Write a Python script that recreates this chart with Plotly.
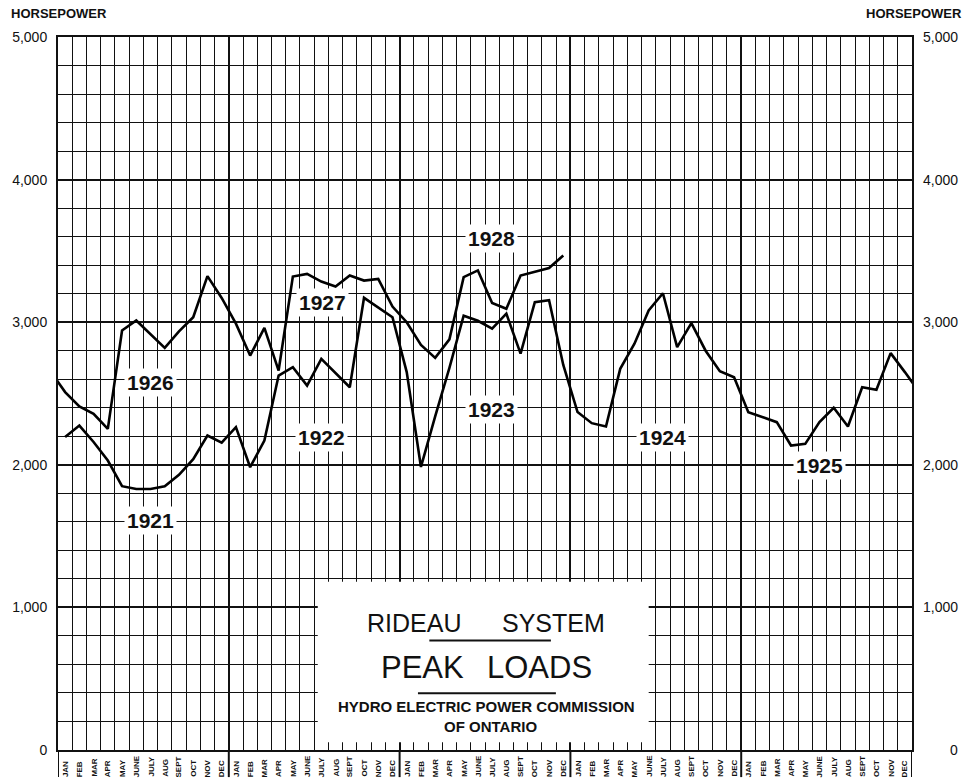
import plotly.graph_objects as go

# ---------------- data ----------------
months = ["JAN", "FEB", "MAR", "APR", "MAY", "JUNE", "JULY", "AUG", "SEPT", "OCT", "NOV", "DEC"]
y_tick_values = [0, 1000, 2000, 3000, 4000, 5000]
y_tick_labels = ["0", "1,000", "2,000", "3,000", "4,000", "5,000"]

load_1921 = [2195, 2275, 2160, 2030, 1850, 1830, 1830, 1850, 1930, 2040, 2205, 2155]
load_1922 = [2264, 1983, 2170, 2626, 2685, 2556, 2743, 2640, 2544, 3171, 3105, 3035]
load_1923 = [2650, 1985, 2340, 2680, 3045, 3010, 2955, 3060, 2780, 3140, 3155, 2700]
load_1924 = [2370, 2292, 2269, 2673, 2849, 3082, 3203, 2825, 2993, 2800, 2656, 2614]
load_1925 = [2369, 2334, 2299, 2135, 2147, 2299, 2400, 2269, 2544, 2526, 2783, 2650]
load_1926 = [2510, 2409, 2358, 2252, 2942, 3012, 2916, 2820, 2936, 3035, 3323, 3170]
load_1927 = [2990, 2766, 2960, 2661, 3320, 3339, 3285, 3250, 3327, 3292, 3304, 3110]
load_1928 = [3000, 2840, 2750, 2880, 3316, 3363, 3135, 3094, 3327, 3351, 3380, 3468]

year_names = ["1921", "1922", "1923", "1924", "1925", "1926", "1927", "1928"]

# ---------------- build series ----------------
lower_years = [load_1921, load_1922, load_1923, load_1924, load_1925]
upper_years = [load_1926, load_1927, load_1928]

lower_y = [v for yr in lower_years for v in yr] + [load_1926[0]]
lower_x = [i + 0.5 for i in range(len(lower_y))]
upper_y = [load_1925[-1]] + [v for yr in upper_years for v in yr]
upper_x = [i - 0.5 for i in range(len(upper_y))]

n_months = 12 * len(lower_years)
year_bounds = list(range(0, n_months + 1, 12))

FONT = "Liberation Sans, Arial, sans-serif"
INK = "#111111"

fig = go.Figure()
for xs, ys in [(lower_x, lower_y), (upper_x, upper_y)]:
    fig.add_trace(go.Scatter(x=xs, y=ys, mode="lines",
                             line=dict(color="black", width=2.6),
                             hoverinfo="skip", showlegend=False))

# label placement (month index, horsepower) -- layout positions
label_pos = {
    "1921": (6.5, 1610), "1926": (6.5, 2575),
    "1922": (18.5, 2193), "1927": (18.55, 3140),
    "1923": (30.45, 2388), "1928": (30.45, 3590),
    "1924": (42.5, 2190), "1925": (53.5, 1995),
}

ann = []
for name in year_names:
    px, py = label_pos[name]
    ann.append(dict(x=px, y=py, xref="x", yref="y", text="<b>" + name + "</b>",
                    showarrow=False, bgcolor="white", borderpad=2,
                    font=dict(family=FONT, size=21, color=INK)))

# month labels along the bottom
for i in range(n_months):
    ann.append(dict(x=i + 0.5, y=0, xref="x", yref="paper", yshift=-28,
                    xanchor="center", yanchor="bottom", textangle=-90,
                    text="<b>" + months[i % 12] + "</b>", showarrow=False,
                    borderpad=0, font=dict(family=FONT, size=8, color=INK)))

# right-side tick labels
for v, t in zip(y_tick_values, y_tick_labels):
    ann.append(dict(x=1, y=v, xref="paper", yref="y", xanchor="right", xshift=48,
                    text=t, showarrow=False,
                    font=dict(family=FONT, size=14, color=INK)))

# axis titles
ann.append(dict(x=0, y=1, xref="paper", yref="paper", xanchor="left", yanchor="middle",
                xshift=-49, yshift=24, text="<b>HORSEPOWER</b>", showarrow=False,
                font=dict(family=FONT, size=13, color=INK)))
ann.append(dict(x=1, y=1, xref="paper", yref="paper", xanchor="right", yanchor="middle",
                xshift=52, yshift=24, text="<b>HORSEPOWER</b>", showarrow=False,
                font=dict(family=FONT, size=13, color=INK)))

# title block text
title_items = [
    ("RIDEAU", 25.0, 894, 25, False), ("SYSTEM", 34.8, 894, 25, False),
    ("PEAK", 25.64, 579, 31, False), ("LOADS", 33.81, 579, 31, False),
    ("HYDRO ELECTRIC POWER COMMISSION", 30.14, 305, 15, True),
    ("OF ONTARIO", 30.37, 165, 15, True),
]
for txt, tx, ty, sz, bold in title_items:
    ann.append(dict(x=tx, y=ty, xref="x", yref="y", showarrow=False,
                    text=("<b>%s</b>" % txt) if bold else txt,
                    font=dict(family=FONT, size=sz, color=INK)))

shapes = [
    dict(type="rect", xref="x", yref="y", x0=18.25, x1=41.5, y0=55, y1=1180,
         fillcolor="white", line=dict(width=0), layer="between"),
    dict(type="line", xref="x", yref="y", x0=26.09, x1=34.63, y0=768, y1=768,
         line=dict(color=INK, width=2)),
    dict(type="line", xref="x", yref="y", x0=25.29, x1=34.98, y0=398, y1=398,
         line=dict(color=INK, width=2)),
]
for b in year_bounds:
    shapes.append(dict(type="line", xref="x", yref="paper", x0=b, x1=b,
                       y0=0, y1=-0.038, line=dict(color=INK, width=2)))

fig.update_layout(
    width=974, height=780,
    margin=dict(l=55, r=62, t=37, b=30),
    paper_bgcolor="white", plot_bgcolor="white",
    font=dict(family=FONT, color=INK),
    annotations=ann, shapes=shapes,
)
fig.update_xaxes(range=[0, n_months], tickmode="array", tickvals=year_bounds,
                 showticklabels=False, ticks="", showgrid=True, gridcolor=INK, gridwidth=2,
                 zeroline=False, showline=True, mirror=True, linecolor=INK, linewidth=2,
                 minor=dict(tickmode="array", tickvals=list(range(n_months + 1)),
                            showgrid=True, gridcolor=INK, gridwidth=1, ticks=""))
fig.update_yaxes(range=[0, 5000], tickmode="array", tickvals=y_tick_values,
                 ticktext=y_tick_labels, ticks="", ticklabelstandoff=6,
                 tickfont=dict(family=FONT, size=14, color=INK),
                 showgrid=True, gridcolor=INK, gridwidth=2,
                 zeroline=False, showline=True, mirror=True, linecolor=INK, linewidth=2,
                 minor=dict(dtick=200, tick0=0, showgrid=True, gridcolor=INK, gridwidth=1, ticks=""))

fig.write_html("out.html", config={"displayModeBar": False},
               post_script="document.body.style.margin='0';document.body.style.overflow='hidden';")
